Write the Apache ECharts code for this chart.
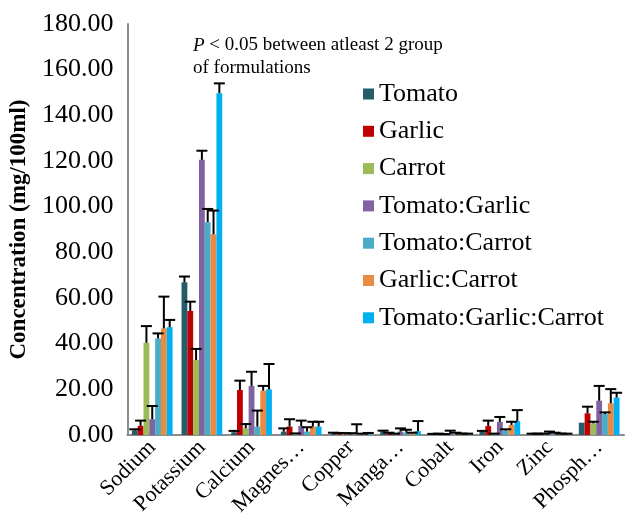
<!DOCTYPE html>
<html>
<head>
<meta charset="utf-8">
<script src="https://cdn.jsdelivr.net/npm/echarts@6/dist/echarts.min.js"></script>
<style>
html,body{margin:0;padding:0;background:#fff;}
#chart{width:625px;height:527px;}
</style>
</head>
<body>
<div id="chart"></div>
<script>
var categories = ['Sodium','Potassium','Calcium','Magnes\u2026','Copper','Manga\u2026','Cobalt','Iron','Zinc','Phosph\u2026'];
var seriesNames = ['Tomato','Garlic','Carrot','Tomato:Garlic','Tomato:Carrot','Garlic:Carrot','Tomato:Garlic:Carrot'];
var colors = ['#245C69','#C00000','#9BBB59','#8064A2','#4BACC6','#E88B43','#00B0F0'];
var yTicks = [0,20,40,60,80,100,120,140,160,180];

var tomato      = [2.0, 66.9, 1.2, 1.5, 0.4, 1.6, 0.3, 1.5, 0.4, 5.4];
var tomatoErr   = [0.5, 2.5, 0.6, 1.4, 0.6, 0.3, 0.2, 0.3, 0.2, null];
var garlic      = [4.0, 54.3, 19.7, 3.7, 0.3, 0.5, 0.3, 3.9, 0.3, 9.5];
var garlicErr   = [2.3, 4.1, 4.1, 3.2, 0.6, 0.5, 0.3, 2.4, 0.3, 2.9];
var carrot      = [40.4, 32.8, 2.9, 0.4, 0.3, 0.3, 0.2, 0.3, 0.3, 5.1];
var carrotErr   = [7.3, 4.9, 1.9, 0.3, 0.5, 0.3, 0.2, 0.3, 0.3, 0.7];
var tomGar      = [6.9, 120.5, 21.5, 3.9, 0.3, 1.5, 0.4, 5.8, 0.4, 15.0];
var tomGarErr   = [5.8, 4.0, 6.2, 2.4, 0.5, 1.4, 1.5, 2.1, 1.1, 6.5];
var tomCar      = [42.3, 93.2, 3.7, 1.5, 0.3, 1.0, 0.3, 1.9, 0.4, 9.2];
var tomCarErr   = [2.2, 5.8, 7.0, 1.9, 4.4, 1.3, 0.7, 0.6, 0.6, 0.7];
var garCar      = [46.7, 87.9, 19.4, 3.7, 0.3, 0.5, 0.3, 4.4, 0.3, 13.9];
var garCarErr   = [13.9, 10.4, 2.1, 2.1, 0.3, 0.5, 0.3, 1.4, 0.3, 6.2];
var tomGarCar   = [47.2, 149.7, 20.0, 3.7, 0.4, 1.7, 0.3, 6.1, 0.3, 16.4];
var tomGarCarErr= [3.2, 4.3, 11.1, 2.1, 0.5, 4.4, 0.3, 4.8, 0.3, 2.1];

var values = [tomato, garlic, carrot, tomGar, tomCar, garCar, tomGarCar];
var errors = [tomatoErr, garlicErr, carrotErr, tomGarErr, tomCarErr, garCarErr, tomGarCarErr];

var FONT = 'Liberation Serif';
var CAT_GAP = 0.18;
var N = seriesNames.length;

var series = [];
seriesNames.forEach(function(name, k){
  series.push({
    name: name, type: 'bar', data: values[k],
    barGap: '0%', barCategoryGap: (CAT_GAP*100) + '%',
    itemStyle: {color: colors[k]}, z: 2
  });
});
seriesNames.forEach(function(name, k){
  var d = [];
  values[k].forEach(function(v, i){
    if (errors[k][i] != null) d.push([i, v, errors[k][i]]);
  });
  series.push({
    type: 'custom', name: name + ' err', data: d, z: 10, silent: true,
    renderItem: (function(k){ return function(params, api){
      var bw = api.size([1,0])[0];
      var barW = bw * (1 - CAT_GAP) / N;
      var base = api.coord([api.value(0), api.value(1)]);
      var top = api.coord([api.value(0), api.value(1) + api.value(2)]);
      var x = base[0] + (k - (N-1)/2) * barW;
      var st = {stroke: '#000', lineWidth: 2};
      return {type: 'group', children: [
        {type: 'line', shape: {x1: x, y1: base[1], x2: x, y2: top[1]}, style: st},
        {type: 'line', shape: {x1: x - 5.5, y1: top[1], x2: x + 5.5, y2: top[1]}, style: st}
      ]};
    };})(k)
  });
});

var chart = echarts.init(document.getElementById('chart'), null, {renderer: 'canvas'});
chart.setOption({
  animation: false,
  backgroundColor: '#fff',
  textStyle: {fontFamily: FONT},
  grid: {left: 126, right: 1, top: 24, bottom: 92},
  legend: {
    data: seriesNames, orient: 'vertical', left: 363, top: 81, padding: 0,
    itemWidth: 11, itemHeight: 11, itemGap: 11.3, icon: 'rect',
    textStyle: {fontFamily: FONT, fontSize: 26, color: '#000'}
  },
  xAxis: {
    type: 'category', data: categories,
    axisLine: {lineStyle: {color: '#8c8c8c', width: 2}},
    axisTick: {show: false},
    axisLabel: {rotate: 45, fontFamily: FONT, fontSize: 22, color: '#000', margin: 9, interval: 0}
  },
  yAxis: {
    type: 'value', min: yTicks[0], max: yTicks[yTicks.length-1], interval: 20,
    name: 'Concentration (mg/100ml)', nameLocation: 'middle', nameGap: 93,
    nameTextStyle: {fontFamily: FONT, fontSize: 23, fontWeight: 'bold', color: '#000'},
    axisLine: {show: true, lineStyle: {color: '#8c8c8c', width: 2}},
    axisTick: {show: false},
    splitLine: {show: false},
    axisLabel: {fontFamily: FONT, fontSize: 26, color: '#000', margin: 14,
      formatter: function(v){ return v.toFixed(2); }}
  },
  graphic: [{
    type: 'text', left: 193, top: 34,
    style: {
      text: '{i|P} < 0.05 between atleast 2 group\nof formulations',
      fontFamily: FONT, fontSize: 19, lineHeight: 23, fill: '#000',
      rich: {i: {fontStyle: 'italic', fontFamily: FONT, fontSize: 19}}
    }
  }],
  series: series
});
</script>
</body>
</html>
